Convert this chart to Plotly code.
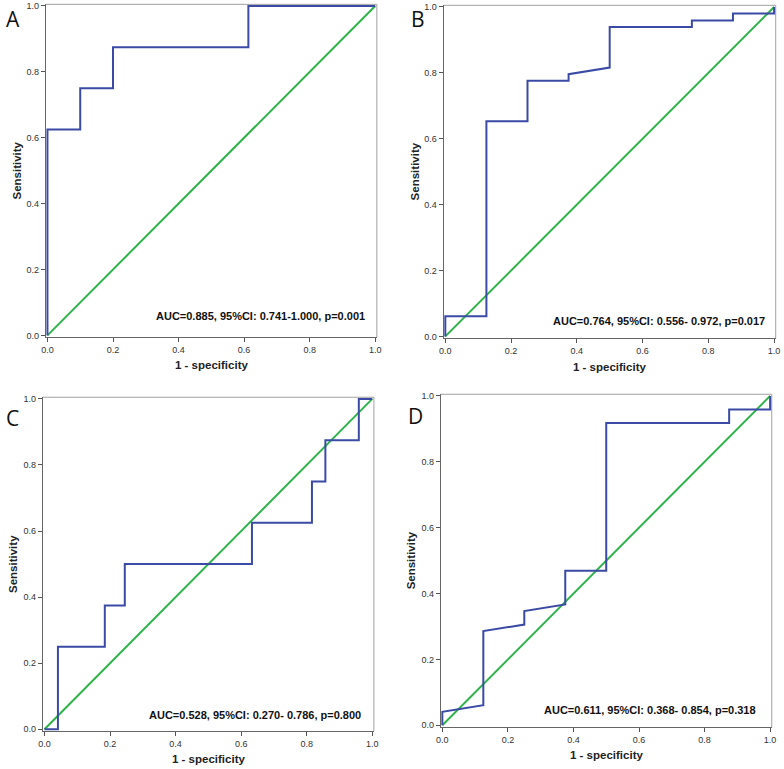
import plotly.graph_objects as go

# ROC curves (1 - specificity, sensitivity)
a_fpr = [0.0, 0.0, 0.1, 0.1, 0.2, 0.2, 0.613, 0.613, 1.0]
a_tpr = [0.0, 0.625, 0.625, 0.75, 0.75, 0.875, 0.875, 1.0, 1.0]

b_fpr = [0.0, 0.0, 0.125, 0.125, 0.25, 0.25, 0.375, 0.375, 0.5, 0.5, 0.75, 0.75, 0.875, 0.875, 1.0, 1.0]
b_tpr = [0.0, 0.061, 0.061, 0.653, 0.653, 0.776, 0.776, 0.796, 0.816, 0.939, 0.939, 0.959, 0.959, 0.980, 0.980, 1.0]

c_fpr = [0.0, 0.041, 0.041, 0.184, 0.184, 0.245, 0.245, 0.633, 0.633, 0.816, 0.816, 0.857, 0.857, 0.959, 0.959, 1.0]
c_tpr = [0.0, 0.0, 0.25, 0.25, 0.375, 0.375, 0.5, 0.5, 0.625, 0.625, 0.75, 0.75, 0.875, 0.875, 1.0, 1.0]

d_fpr = [0.0, 0.0, 0.125, 0.125, 0.25, 0.25, 0.375, 0.375, 0.5, 0.5, 0.875, 0.875, 1.0, 1.0]
d_tpr = [0.0, 0.041, 0.061, 0.286, 0.306, 0.347, 0.367, 0.469, 0.469, 0.918, 0.918, 0.959, 0.959, 1.0]

ref_line = [0.0, 1.0]

letters = ["A", "B", "C", "D"]
auc_texts = [
    "AUC=0.885, 95%CI: 0.741-1.000, p=0.001",
    "AUC=0.764, 95%CI: 0.556- 0.972, p=0.017",
    "AUC=0.528, 95%CI: 0.270- 0.786, p=0.800",
    "AUC=0.611, 95%CI: 0.368- 0.854, p=0.318",
]
tick_vals = [0.0, 0.2, 0.4, 0.6, 0.8, 1.0]
tick_text = ["0.0", "0.2", "0.4", "0.6", "0.8", "1.0"]

curves = [(a_fpr, a_tpr), (b_fpr, b_tpr), (c_fpr, c_tpr), (d_fpr, d_tpr)]

W, H = 784, 769
PAD = 0.005

# pixel boxes of the 0..1 square for each panel: (x0, x1, ytop, ybottom)
boxes = [(43, 375, 3, 335), (446, 779, 4, 336), (40, 372, 399, 732), (443, 775, 396, 728)]
# label positions in pixels
letter_pos = [(8, 16), (418, 16), (8, 418), (416, 416)]
ytitle_x = [12, 415, 8, 411]
xtitle_y = [365, 367, 762, 758]
auc_pos = [(0.976, 0.06), (0.979, 0.047), (0.973, 0.043), (0.964, 0.047)]

BLUE = "#3b4ba5"
GREEN = "#2eb34a"

fig = go.Figure()
layout = dict(width=W, height=H, margin=dict(l=0, r=0, t=0, b=0),
              paper_bgcolor="white", plot_bgcolor="white", showlegend=False)
annotations = []
shapes = []

for i, (fpr, tpr) in enumerate(curves):
    n = "" if i == 0 else str(i + 1)
    xa, ya = "x" + n, "y" + n
    x0, x1, yt, yb = boxes[i]
    sx = (x1 - x0) * PAD
    sy = (yb - yt) * PAD
    layout["xaxis" + n] = dict(
        domain=[(x0 - sx) / W, (x1 + sx) / W], range=[-PAD, 1 + PAD], anchor=ya,
        tickvals=tick_vals, ticktext=tick_text, ticks="outside", ticklen=4,
        tickcolor="#555", tickfont=dict(family="Liberation Sans, Arial", size=9, color="#333"),
        showline=True, linecolor="#666", linewidth=1, showgrid=False, zeroline=False,
        layer="below traces", fixedrange=True)
    layout["yaxis" + n] = dict(
        domain=[1 - (yb + sy) / H, 1 - (yt - sy) / H], range=[-PAD, 1 + PAD], anchor=xa,
        tickvals=tick_vals, ticktext=tick_text, ticks="outside", ticklen=4,
        tickcolor="#555", tickfont=dict(family="Liberation Sans, Arial", size=9, color="#333"),
        showline=True, linecolor="#666", linewidth=1, showgrid=False, zeroline=False,
        layer="below traces", fixedrange=True)

    # lighter top and right frame lines
    shapes.append(dict(type="line", xref=xa + " domain", yref=ya + " domain",
                       x0=0, x1=1, y0=1, y1=1, line=dict(color="#a0a0a0", width=1), layer="below"))
    shapes.append(dict(type="line", xref=xa + " domain", yref=ya + " domain",
                       x0=1, x1=1, y0=0, y1=1, line=dict(color="#a0a0a0", width=1), layer="below"))

    fig.add_trace(go.Scatter(x=ref_line, y=ref_line, mode="lines", xaxis=xa, yaxis=ya,
                             line=dict(color=GREEN, width=2), hoverinfo="skip"))
    fig.add_trace(go.Scatter(x=fpr, y=tpr, mode="lines", xaxis=xa, yaxis=ya,
                             line=dict(color=BLUE, width=2)))

    annotations.append(dict(text="<b>" + auc_texts[i] + "</b>", xref=xa, yref=ya,
                            x=auc_pos[i][0], y=auc_pos[i][1],
                            xanchor="right", yanchor="middle", showarrow=False,
                            font=dict(family="Liberation Sans, Arial", size=11, color="#111")))
    lx, ly = letter_pos[i]
    annotations.append(dict(text=letters[i], xref="paper", yref="paper", x=lx / W, y=1 - ly / H,
                            xanchor="center", yanchor="middle", showarrow=False,
                            font=dict(family="Open Sans, Noto Sans", size=21, color="#111")))
    annotations.append(dict(text="<b>Sensitivity</b>", xref="paper", yref="paper",
                            x=ytitle_x[i] / W, y=1 - (yt + yb) / 2 / H, textangle=-90,
                            xanchor="center", yanchor="middle", showarrow=False,
                            font=dict(family="Liberation Sans, Arial", size=11.5, color="#222")))
    annotations.append(dict(text="<b>1 - specificity</b>", xref="paper", yref="paper",
                            x=(x0 + x1) / 2 / W, y=1 - xtitle_y[i] / H,
                            xanchor="center", yanchor="middle", showarrow=False,
                            font=dict(family="Liberation Sans, Arial", size=11.5, color="#222")))

layout["annotations"] = annotations
layout["shapes"] = shapes
fig.update_layout(**layout)

# drop the browser's default page margin so the figure fills the window
fig.write_html("out.html", config={"displayModeBar": False},
               post_script="document.body.style.margin='0';document.body.style.overflow='hidden';")
